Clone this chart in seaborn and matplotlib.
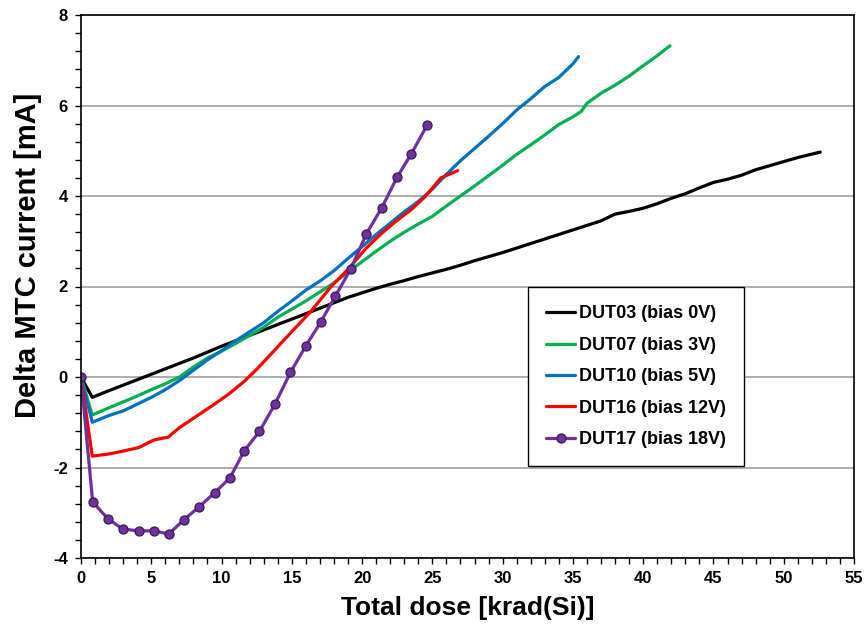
import numpy as np
import pandas as pd
import matplotlib
matplotlib.use("Agg")
import matplotlib.pyplot as plt
import seaborn as sns
from matplotlib.ticker import MultipleLocator

# data
x03 = [0, 0.8, 2, 3, 4, 5, 6, 7, 8, 9, 10, 11, 12, 13, 14, 15, 16, 17, 18, 19, 20,
       21, 22, 23, 24, 25, 26, 27, 28, 29, 30, 31, 32, 33, 34, 35, 36, 37, 38, 39, 40,
       41, 42, 43, 44, 45, 46, 47, 48, 49, 50, 51, 52.6]
y03 = [0, -0.45, -0.3, -0.18, -0.06, 0.06, 0.18, 0.3, 0.42, 0.55, 0.68, 0.8, 0.92,
       1.04, 1.16, 1.28, 1.4, 1.52, 1.64, 1.76, 1.86, 1.96, 2.05, 2.13, 2.22, 2.3, 2.38,
       2.47, 2.57, 2.66, 2.75, 2.85, 2.95, 3.05, 3.15, 3.25, 3.35, 3.45, 3.6, 3.66, 3.73,
       3.83, 3.95, 4.05, 4.18, 4.3, 4.37, 4.46, 4.58, 4.67, 4.76, 4.85, 4.97]

x07 = [0, 0.8, 2, 3, 4, 5, 6, 7, 8, 9, 10, 11, 12, 13, 14, 15, 16, 17, 18, 19, 20,
       21, 22, 23, 24, 25, 26, 27, 28, 29, 30, 31, 32, 33, 34, 35, 35.6, 36, 36.5, 37,
       38, 39, 40, 41, 41.9]
y07 = [0, -0.84, -0.68, -0.55, -0.42, -0.28, -0.15, 0.0, 0.22, 0.42, 0.57, 0.74, 0.92,
       1.1, 1.32, 1.5, 1.68, 1.88, 2.08, 2.32, 2.55, 2.78, 3.0, 3.2, 3.38, 3.55, 3.78,
       4.0, 4.22, 4.45, 4.68, 4.92, 5.13, 5.35, 5.58, 5.75, 5.87, 6.05, 6.16, 6.27, 6.45,
       6.65, 6.88, 7.1, 7.32]

x10 = [0, 0.8, 2, 3, 4, 5, 6, 7, 8, 9, 10, 11, 12, 13, 14, 15, 16, 17, 18, 19, 20,
       21, 22, 23, 24, 25, 26, 27, 28, 29, 30, 31, 32, 33, 34, 35, 35.4]
y10 = [0, -1.0, -0.85, -0.75, -0.6, -0.45, -0.28, -0.08, 0.15, 0.38, 0.58, 0.8, 1.0,
       1.2, 1.45, 1.68, 1.92, 2.12, 2.35, 2.62, 2.88, 3.15, 3.4, 3.65, 3.88, 4.15, 4.48,
       4.78, 5.05, 5.32, 5.6, 5.9, 6.15, 6.42, 6.62, 6.92, 7.08]

x16 = [0, 0.8, 2, 2.8, 4.1, 5.2, 6.2, 7, 8.25, 9.4, 10.5, 11.6, 12.5, 13.5, 14.9,
       16.3, 17.8, 19, 20.3, 21.3, 22.4, 23.5, 24.5, 25.6, 26.8]
y16 = [0, -1.75, -1.7, -1.65, -1.56, -1.39, -1.33, -1.12, -0.86, -0.62, -0.38, -0.1,
       0.17, 0.5, 0.97, 1.43, 2.0, 2.38, 2.85, 3.15, 3.44, 3.7, 3.99, 4.4, 4.56]

x17 = [0, 0.83, 1.9, 2.97, 4.1, 5.2, 6.25, 7.3, 8.37, 9.5, 10.6, 11.6, 12.7, 13.8,
       14.9, 16.0, 17.05, 18.1, 19.2, 20.3, 21.4, 22.5, 23.5, 24.65]
y17 = [0, -2.76, -3.13, -3.36, -3.40, -3.40, -3.47, -3.16, -2.88, -2.56, -2.23, -1.64,
       -1.20, -0.60, 0.10, 0.69, 1.21, 1.79, 2.39, 3.16, 3.74, 4.42, 4.93, 5.58]

labels = ["DUT03 (bias 0V)", "DUT07 (bias 3V)", "DUT10 (bias 5V)",
          "DUT16 (bias 12V)", "DUT17 (bias 18V)"]
colors = ["#000000", "#00B050", "#0070C0", "#FF0000", "#7030A0"]

sns.set_style("white")
plt.rcParams["font.family"] = ["Liberation Sans", "DejaVu Sans"]
plt.rcParams["font.weight"] = "bold"
plt.rcParams["axes.unicode_minus"] = False
plt.rcParams["text.color"] = "black"
plt.rcParams["axes.labelcolor"] = "black"
plt.rcParams["xtick.color"] = "black"
plt.rcParams["ytick.color"] = "black"

fig = plt.figure(figsize=(8.65, 6.28), dpi=100)
ax = fig.add_axes([81 / 865, 70 / 628, 773 / 865, 543 / 628])

series = [(x03, y03), (x07, y07), (x10, y10), (x16, y16)]
for (xs, ys), lab, col in zip(series, labels[:4], colors[:4]):
    sns.lineplot(x=xs, y=ys, ax=ax, color=col, linewidth=2.3, label=lab)
sns.lineplot(x=x17, y=y17, ax=ax, color=colors[4], linewidth=2.3, label=labels[4],
             marker="o", markersize=6.5, markerfacecolor=colors[4],
             markeredgecolor="#3a1a55", markeredgewidth=0.9)

ax.set_xlim(0, 55)
ax.set_ylim(-4, 8)
ax.xaxis.set_major_locator(MultipleLocator(5))
ax.xaxis.set_minor_locator(MultipleLocator(1))
ax.yaxis.set_major_locator(MultipleLocator(2))
ax.yaxis.set_minor_locator(MultipleLocator(0.4))
ax.grid(axis="y", which="major", color="#a0a0a0", linewidth=1.2)
ax.set_axisbelow(True)
ax.tick_params(which="both", direction="out", length=4.5, width=1, colors="black",
               labelsize=12, pad=5, left=True, bottom=True)
for lbl in ax.get_xticklabels() + ax.get_yticklabels():
    lbl.set_fontweight("bold")
for sp in ax.spines.values():
    sp.set_color("black")
    sp.set_linewidth(1.2)

ax.set_xlabel("Total dose [krad(Si)]", fontsize=19, fontweight="bold", color="black")
ax.set_ylabel("Delta MTC current [mA]", fontsize=21, fontweight="bold", color="black")
ax.xaxis.set_label_coords(0.5, -0.07)
ax.yaxis.set_label_coords(-0.05, 0.558)

leg = ax.legend(loc="upper left", bbox_to_anchor=(0.567, 0.515), fontsize=13,
                frameon=True, fancybox=False, edgecolor="black", framealpha=1,
                handlelength=1.6, handletextpad=0.2, labelspacing=0.8, borderpad=1.0)
leg.get_frame().set_linewidth(1.0)
for t in leg.get_texts():
    t.set_fontweight("bold")
    t.set_color("black")

fig.savefig("out.png", dpi=100)
